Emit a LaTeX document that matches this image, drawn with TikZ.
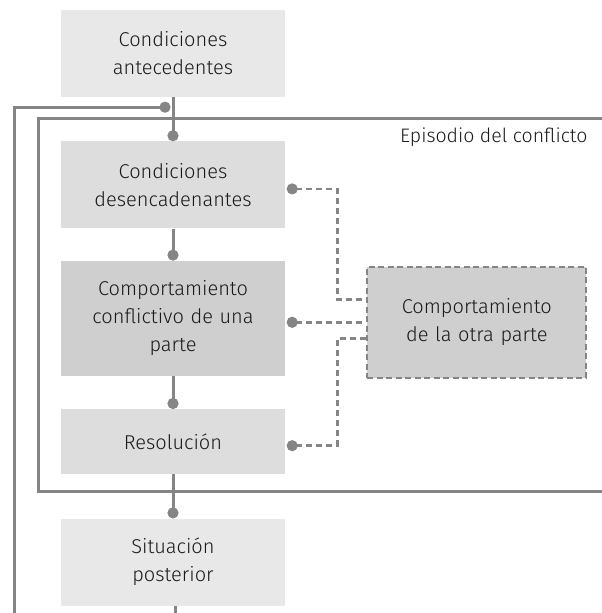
\documentclass[tikz,border=0pt]{standalone}
\usepackage{fontspec}
\setmainfont{Fira Sans Light}
\usetikzlibrary{arrows.meta, positioning, calc}
\definecolor{gristrazo}{HTML}{858585}
\definecolor{grisclaro}{HTML}{E8E8E8}
\definecolor{grismedio}{HTML}{DDDDDD}
\definecolor{grisoscuro}{HTML}{CFCFCF}

\begin{document}
\begin{tikzpicture}[
  x=1pt, y=1pt,
  node distance=44pt,
  caja/.style={fill=grisclaro, align=center, text width=210pt, minimum width=224pt, inner sep=0pt, text=black!90, font=\fontsize{20}{28}\selectfont},
  cajamedia/.style={caja, fill=grismedio},
  cajaoscura/.style={caja, fill=grisoscuro},
  otra/.style={caja, fill=grisoscuro, draw=gristrazo, line width=2.2pt, dash pattern=on 6pt off 3.5pt, text width=200pt, minimum width=219pt},
  trazo/.style={draw=gristrazo, line width=3pt},
  conector/.style={trazo, -{Circle[length=11pt]}},
  discontinuo/.style={draw=gristrazo, line width=2.6pt, dash pattern=on 6pt off 4pt, {Circle[length=11pt]}-}
]
  \useasboundingbox (0,0) rectangle (602,613);

  % Columna principal ================================
  \node[caja, minimum height=87pt] (ante) at (173,559.5) {Condiciones\\antecedentes};
  \node[cajamedia, minimum height=87pt, below=44pt of ante] (desenc) {Condiciones\\desencadenantes};
  \node[cajaoscura, minimum height=115pt, below=32pt of desenc] (confl) {Comportamiento\\conflictivo de una\\parte};
  \node[cajamedia, minimum height=65pt, below=33pt of confl] (resol) {Resolución};
  \node[caja, minimum height=87pt, below=44pt of resol] (post) {Situación\\posterior};

  % Comportamiento de la otra parte
  \node[otra, minimum height=111pt, right=81pt of confl, yshift=-4pt] (otraparte) {Comportamiento\\de la otra parte};

  % Marco del episodio
  \coordinate (marcoNE) at (602,494);
  \coordinate (marcoNO) at (38,494);
  \coordinate (marcoSO) at (38,121);
  \coordinate (marcoSE) at (602,121);
  \draw[trazo] (marcoNE) -- (marcoNO) -- (marcoSO) -- (marcoSE);
  \node[anchor=east, text=black!90, font=\fontsize{19.5}{22}\selectfont] (episodio) at (591,476) {Episodio del conflicto};

  % Flujo principal vertical
  \draw[conector] (ante) -- (desenc);
  \draw[conector] (desenc) -- (confl);
  \draw[conector] (confl) -- (resol);
  \draw[conector] (resol) -- (post);
  \draw[trazo] ([xshift=2.5pt]post.south) -- ++(0,-12);

  % Retroalimentación
  \coordinate (lazo) at ($(ante.south)!0.227!(desenc.north)$);
  \coordinate (lazoinicio) at (14,-2);
  \draw[conector] (lazoinicio) |- ([xshift=-2.5pt]lazo);

  % Conexiones con la otra parte
  \draw[discontinuo] ([xshift=1.5pt, yshift=-4pt]desenc.east) -- ++(50.5,0) |- ([yshift=22.5pt]otraparte.west);
  \draw[discontinuo] ([xshift=1.5pt, yshift=-4pt]confl.east) -- (otraparte.west);
  \draw[discontinuo] ([xshift=1.5pt, yshift=-4pt]resol.east) -- ++(50.5,0) |- ([yshift=-16.5pt]otraparte.west);

\end{tikzpicture}
\end{document}
